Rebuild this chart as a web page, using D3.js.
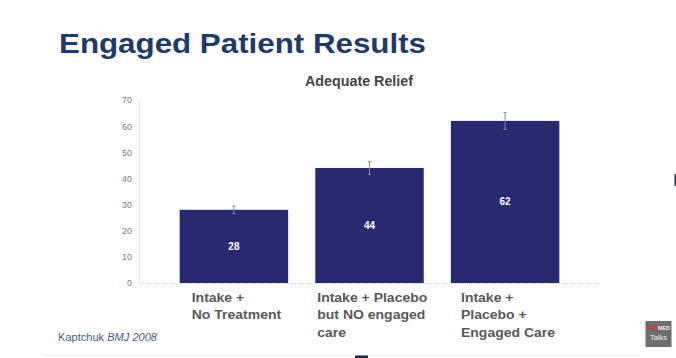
<!DOCTYPE html>
<html><head><meta charset="utf-8">
<script src="https://cdnjs.cloudflare.com/ajax/libs/d3/7.8.5/d3.min.js"></script>
<style>html,body{margin:0;padding:0;background:#fff;}svg{display:block;}</style>
</head><body>
<script>
const categories = ["c1", "c2", "c3"];
const labelLines = [
  ["Intake +", "No Treatment"],
  ["Intake + Placebo", "but NO engaged", "care"],
  ["Intake +", "Placebo +", "Engaged Care"]
];
const values = [28, 44, 62];
const errors = [1.5, 2.4, 3.2];
const yTicks = [0, 10, 20, 30, 40, 50, 60, 70];

const W = 676, H = 358, SX = 1.12;
const svg = d3.select("body").append("svg").attr("width", W).attr("height", H);
svg.append("rect").attr("width", W).attr("height", H).attr("fill", "#fefefe");

const x = d3.scaleBand().domain(categories).range([139, 600]).paddingInner(0.2).paddingOuter(0.3);
const y = d3.scaleLinear().domain([0, 70]).range([283, 100]);

// title
svg.append("text").attr("x", 59).attr("y", 52.5)
  .attr("font-family", "Liberation Sans, Arial, sans-serif").attr("font-weight", "bold")
  .attr("font-size", 28).attr("fill", "#1d3a6b")
  .attr("textLength", 367).attr("lengthAdjust", "spacingAndGlyphs")
  .text("Engaged Patient Results");

svg.append("text").attr("x", 305).attr("y", 85.5)
  .attr("font-family", "Liberation Sans, Arial, sans-serif").attr("font-weight", "bold")
  .attr("font-size", 15).attr("fill", "#454545")
  .attr("textLength", 108).attr("lengthAdjust", "spacingAndGlyphs")
  .text("Adequate Relief");

// y axis
const yAxis = d3.axisLeft(y).tickValues(yTicks).tickSize(0).tickPadding(7);
const gy = svg.append("g").attr("transform", "translate(139,0)").call(yAxis);
gy.select(".domain").attr("stroke", "#c8cfe0").attr("stroke-dasharray", "1,1");
gy.selectAll("text").attr("font-family", "Liberation Sans, Arial, sans-serif")
  .attr("font-size", 9).attr("fill", "#7a7a7a");

// baseline
svg.append("line").attr("x1", 139).attr("x2", 600).attr("y1", y(0) + 0.5).attr("y2", y(0) + 0.5)
  .attr("stroke", "#c8cfe0").attr("stroke-dasharray", "1,1");

// bars
svg.selectAll("rect.bar").data(values).join("rect").attr("class", "bar")
  .attr("x", (d, i) => x(categories[i])).attr("width", x.bandwidth())
  .attr("y", d => y(d)).attr("height", d => y(0) - y(d))
  .attr("fill", "#272a70");

// error bars
const eg = svg.append("g").attr("stroke", "#8a8a9a").attr("stroke-width", 1);
values.forEach((v, i) => {
  const cx = x(categories[i]) + x.bandwidth() / 2;
  eg.append("line").attr("x1", cx).attr("x2", cx).attr("y1", y(v + errors[i])).attr("y2", y(v - errors[i]));
  eg.append("line").attr("x1", cx - 1.5).attr("x2", cx + 1.5).attr("y1", y(v + errors[i])).attr("y2", y(v + errors[i]));
  eg.append("line").attr("x1", cx - 1.5).attr("x2", cx + 1.5).attr("y1", y(v - errors[i])).attr("y2", y(v - errors[i]));
});

// value labels
svg.selectAll("text.val").data(values).join("text").attr("class", "val")
  .attr("x", (d, i) => x(categories[i]) + x.bandwidth() / 2)
  .attr("y", d => (y(d) + y(0)) / 2 + 3.5)
  .attr("text-anchor", "middle").attr("font-family", "Liberation Sans, Arial, sans-serif")
  .attr("font-weight", "bold").attr("font-size", 10).attr("fill", "#fff")
  .text(d => d);

// category labels (left-aligned block, centred under bar)
labelLines.forEach((lines, i) => {
  const g = svg.append("g");
  const t = g.append("text").attr("font-family", "Liberation Sans, Arial, sans-serif")
    .attr("font-weight", "bold").attr("font-size", 12.5).attr("fill", "#595959");
  lines.forEach((ln, j) => t.append("tspan").attr("x", 0).attr("y", j * 17.5).text(ln));
  const bw = t.node().getBBox().width * SX;
  const cx = x(categories[i]) + x.bandwidth() / 2 + 3;
  g.attr("transform", `translate(${cx - bw / 2},302) scale(${SX},1)`);
});

// citation
const cit = svg.append("text").attr("x", 58).attr("y", 341)
  .attr("font-family", "Liberation Sans, Arial, sans-serif").attr("font-size", 10).attr("fill", "#4a5a85")
  .attr("textLength", 99).attr("lengthAdjust", "spacingAndGlyphs");
cit.append("tspan").text("Kaptchuk ");
cit.append("tspan").attr("font-style", "italic").text("BMJ 2008");

// faint bottom line
svg.append("line").attr("x1", 43).attr("x2", 640).attr("y1", 355.5).attr("y2", 355.5)
  .attr("stroke", "#e4e6ec").attr("stroke-dasharray", "1,1");

// TEDMED logo
svg.append("rect").attr("x", 645.5).attr("y", 321).attr("width", 26).attr("height", 26).attr("fill", "#6e6e6e");
const lt = svg.append("text").attr("x", 647).attr("y", 330).attr("font-family", "Liberation Sans, Arial, sans-serif")
  .attr("font-weight", "bold").attr("font-size", 6).attr("textLength", 23).attr("lengthAdjust", "spacingAndGlyphs");
lt.append("tspan").attr("fill", "#e62b1e").text("TED");
lt.append("tspan").attr("fill", "#eee").text("MED");
svg.append("text").attr("x", 658.5).attr("y", 340).attr("text-anchor", "middle")
  .attr("font-family", "Liberation Sans, Arial, sans-serif").attr("font-size", 7.5).attr("fill", "#f0f0f0").text("Talks");

// small artefacts from the source frame
svg.append("rect").attr("x", 674.5).attr("y", 174).attr("width", 1.5).attr("height", 12).attr("fill", "#1f2350");
svg.append("rect").attr("x", 355).attr("y", 355.5).attr("width", 13).attr("height", 3).attr("fill", "#1f2350");
</script>
</body></html>
